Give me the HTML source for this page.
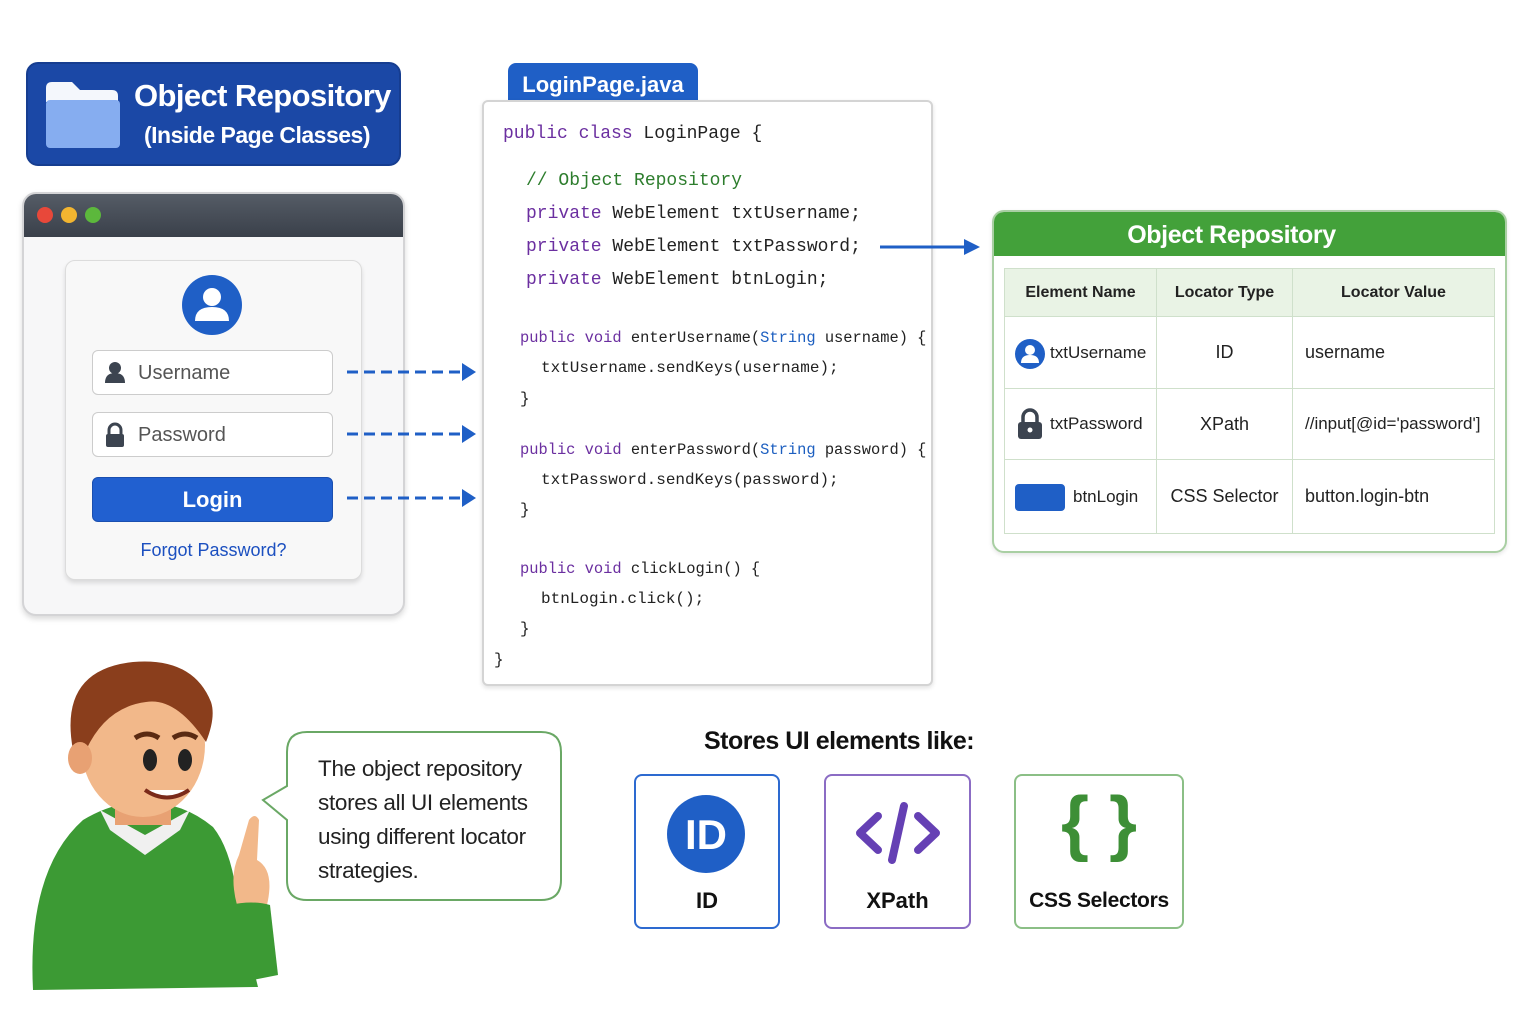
<!DOCTYPE html>
<html><head><meta charset="utf-8"><style>
*{margin:0;padding:0;box-sizing:border-box}
body{width:1536px;height:1024px;background:#fff;position:relative;overflow:hidden;font-family:"Liberation Sans",sans-serif}
.a{position:absolute}
.code{font-family:"Liberation Mono",monospace;color:#222;white-space:pre}
.k{color:#6b2fa0}.c{color:#2d7d2d}.s{color:#1d5fc0}
td,th{border:1.5px solid #cfe0cb;font-size:18px;color:#222}
</style></head><body>

<!-- title box -->
<div class="a" style="left:26px;top:62px;width:375px;height:104px;background:#1b48a6;border-radius:12px;border:2px solid #163d90"></div>
<svg class="a" style="left:44px;top:80px" width="76" height="70"><path d="M2 8 q0-6 6-6 h20 l8 8 h32 q6 0 6 6 v6 H2z" fill="#f4f7fc"/><rect x="2" y="20" width="74" height="48" rx="4" fill="#86adf0"/></svg>
<div class="a" style="left:134px;top:78px;color:#fff;font-size:31px;font-weight:bold;letter-spacing:-0.6px;white-space:nowrap">Object Repository</div>
<div class="a" style="left:144px;top:122px;color:#fff;font-size:23px;font-weight:bold;letter-spacing:-0.5px;white-space:nowrap">(Inside Page Classes)</div>

<!-- browser -->
<div class="a" style="left:22px;top:192px;width:383px;height:424px;background:#f7f7f8;border:2px solid #d4d4d6;border-radius:14px;box-shadow:0 3px 6px rgba(0,0,0,.15);overflow:hidden">
 <div style="height:43px;background:linear-gradient(#555c66,#3a404a)"></div>
</div>
<div class="a" style="left:37px;top:207px;width:16px;height:16px;border-radius:50%;background:#e8483a"></div>
<div class="a" style="left:61px;top:207px;width:16px;height:16px;border-radius:50%;background:#f2b530"></div>
<div class="a" style="left:85px;top:207px;width:16px;height:16px;border-radius:50%;background:#5cb83c"></div>
<div class="a" style="left:65px;top:260px;width:297px;height:320px;background:#f8f8f8;border:1.5px solid #dcdcdc;border-radius:10px;box-shadow:0 3px 5px rgba(0,0,0,.12)"></div>
<svg class="a" style="left:181px;top:274px" width="62" height="62"><circle cx="31" cy="31" r="30" fill="#1f5fc6"/><circle cx="31" cy="23" r="9" fill="#fff"/><path d="M14 47 q0-14 17-14 q17 0 17 14z" fill="#fff"/></svg>
<div class="a" style="left:92px;top:350px;width:241px;height:45px;background:#fff;border:1.5px solid #ccc;border-radius:6px"></div>
<svg class="a" style="left:104px;top:361px" width="22" height="22"><circle cx="11" cy="7" r="6" fill="#3c4450"/><path d="M1 22 q0-10 10-10 q10 0 10 10z" fill="#3c4450"/></svg>
<div class="a" style="left:138px;top:362px;font-size:20px;color:#555">Username</div>
<div class="a" style="left:92px;top:412px;width:241px;height:45px;background:#fff;border:1.5px solid #ccc;border-radius:6px"></div>
<svg class="a" style="left:104px;top:422px" width="22" height="26"><path d="M5 12 v-4 a6 6 0 0 1 12 0 v4" stroke="#3c4450" stroke-width="3" fill="none"/><rect x="2" y="12" width="18" height="13" rx="2" fill="#3c4450"/></svg>
<div class="a" style="left:138px;top:424px;font-size:20px;color:#555">Password</div>
<div class="a" style="left:92px;top:477px;width:241px;height:45px;background:#2160d0;border:1.5px solid #1a4fb0;border-radius:6px;color:#fff;font-size:22px;font-weight:bold;text-align:center;line-height:43px">Login</div>
<div class="a" style="left:65px;top:540px;width:297px;text-align:center;font-size:18px;color:#1c50c0">Forgot Password?</div>

<!-- dashed arrows -->
<svg class="a" style="left:340px;top:355px" width="150" height="160">
 <g stroke="#1f5fc6" stroke-width="3" stroke-dasharray="11,6" fill="none"><line x1="7" y1="17" x2="124" y2="17"/><line x1="7" y1="79" x2="124" y2="79"/><line x1="7" y1="143" x2="124" y2="143"/></g>
 <g fill="#1f5fc6"><path d="M122 8 l14 9 -14 9z"/><path d="M122 70 l14 9 -14 9z"/><path d="M122 134 l14 9 -14 9z"/></g>
</svg>

<!-- code panel -->
<div class="a" style="left:508px;top:63px;width:190px;height:44px;background:#1f5fc6;border-radius:8px 8px 0 0;color:#fff;font-size:22px;font-weight:bold;text-align:center;line-height:44px">LoginPage.java</div>
<div class="a" style="left:482px;top:100px;width:451px;height:586px;background:#fff;border:2px solid #d4d4d4;border-radius:6px;box-shadow:0 2px 5px rgba(0,0,0,.12)"></div>
<div class="a code" style="left:503px;top:124px;font-size:18px"><span class="k">public class</span> LoginPage {</div>
<div class="a code" style="left:526px;top:165px;font-size:18px;line-height:33px"><span class="c">// Object Repository</span>
<span class="k">private</span> WebElement txtUsername;
<span class="k">private</span> WebElement txtPassword;
<span class="k">private</span> WebElement btnLogin;</div>
<div class="a code" style="left:520px;top:329px;font-size:15.4px"><span class="k">public void</span> enterUsername(<span class="s">String</span> username) {</div>
<div class="a code" style="left:541px;top:359px;font-size:16px">txtUsername.sendKeys(username);</div>
<div class="a code" style="left:520px;top:390px;font-size:16px">}</div>
<div class="a code" style="left:520px;top:441px;font-size:15.4px"><span class="k">public void</span> enterPassword(<span class="s">String</span> password) {</div>
<div class="a code" style="left:541px;top:471px;font-size:16px">txtPassword.sendKeys(password);</div>
<div class="a code" style="left:520px;top:501px;font-size:16px">}</div>
<div class="a code" style="left:520px;top:560px;font-size:15.4px"><span class="k">public void</span> clickLogin() {</div>
<div class="a code" style="left:541px;top:590px;font-size:16px">btnLogin.click();</div>
<div class="a code" style="left:520px;top:620px;font-size:16px">}</div>
<div class="a code" style="left:494px;top:651px;font-size:16px">}</div>

<svg class="a" style="left:878px;top:236px" width="106" height="22"><line x1="2" y1="11" x2="88" y2="11" stroke="#1f5fc6" stroke-width="3"/><path d="M86 3 l16 8 -16 8z" fill="#1f5fc6"/></svg>

<!-- object repository table -->
<div class="a" style="left:992px;top:210px;width:515px;height:343px;background:#fff;border:2px solid #a9cfa3;border-radius:12px;box-shadow:0 2px 4px rgba(0,0,0,.1);overflow:hidden">
 <div style="height:44px;background:#43a13a;color:#fff;font-size:25px;font-weight:bold;text-align:center;line-height:46px;letter-spacing:-0.4px;padding-right:36px">Object Repository</div>
</div>
<table class="a" style="left:1004px;top:268px;width:491px;border-collapse:collapse;background:#fff">
<tr style="height:48px;background:#e9f3e5"><th style="width:152px;font-size:16px">Element Name</th><th style="width:136px;font-size:16px">Locator Type</th><th style="font-size:16px">Locator Value</th></tr>
<tr style="height:72px"><td style="padding-left:45px;font-size:17px">txtUsername</td><td style="text-align:center">ID</td><td style="padding-left:12px">username</td></tr>
<tr style="height:71px"><td style="padding-left:45px;font-size:17px">txtPassword</td><td style="text-align:center">XPath</td><td style="padding-left:12px;font-size:17px">//input[@id='password']</td></tr>
<tr style="height:74px"><td style="padding-left:68px;font-size:17px">btnLogin</td><td style="text-align:center">CSS Selector</td><td style="padding-left:12px">button.login-btn</td></tr>
</table>
<svg class="a" style="left:1014px;top:338px" width="32" height="32"><circle cx="16" cy="16" r="15" fill="#1f5fc6"/><circle cx="16" cy="12" r="5" fill="#fff"/><path d="M7 25 q0-8 9-8 q9 0 9 8z" fill="#fff"/></svg>
<svg class="a" style="left:1016px;top:408px" width="28" height="32"><path d="M7 14 v-5 a7 7 0 0 1 14 0 v5" stroke="#3c4450" stroke-width="3.5" fill="none"/><rect x="2" y="14" width="24" height="17" rx="3" fill="#3c4450"/><circle cx="14" cy="22" r="2.5" fill="#fff"/></svg>
<div class="a" style="left:1015px;top:484px;width:50px;height:27px;background:#1f5fc6;border-radius:4px"></div>

<!-- stores UI elements -->
<div class="a" style="left:704px;top:727px;font-size:25px;font-weight:bold;color:#111;letter-spacing:-0.5px;white-space:nowrap">Stores UI elements like:</div>
<div class="a" style="left:634px;top:774px;width:146px;height:155px;border:2px solid #2d6ad0;border-radius:8px"></div>
<svg class="a" style="left:666px;top:794px" width="80" height="80"><circle cx="40" cy="40" r="39" fill="#1f5fc6"/><text x="40" y="55" text-anchor="middle" font-family="Liberation Sans" font-weight="bold" font-size="42" fill="#fff">ID</text></svg>
<div class="a" style="left:634px;top:888px;width:146px;text-align:center;font-size:22px;font-weight:bold;color:#111">ID</div>
<div class="a" style="left:824px;top:774px;width:147px;height:155px;border:2px solid #8b6cc4;border-radius:8px"></div>
<svg class="a" style="left:852px;top:800px" width="92" height="66"><g stroke="#6540b4" stroke-width="8" fill="none" stroke-linecap="round" stroke-linejoin="round"><path d="M26 16 L8 33 L26 50"/><path d="M66 16 L84 33 L66 50"/><path d="M52 6 L40 60"/></g></svg>
<div class="a" style="left:824px;top:888px;width:147px;text-align:center;font-size:22px;font-weight:bold;color:#111">XPath</div>
<div class="a" style="left:1014px;top:774px;width:170px;height:155px;border:2px solid #8bbf86;border-radius:8px"></div>
<div class="a" style="left:1014px;top:782px;width:170px;text-align:center;font-size:72px;font-weight:bold;color:#3d8f36">{ }</div>
<div class="a" style="left:1014px;top:889px;width:170px;text-align:center;font-size:21px;font-weight:bold;color:#111;letter-spacing:-0.3px">CSS Selectors</div>

<!-- speech bubble -->
<svg class="a" style="left:255px;top:728px" width="310" height="176"><path d="M52 4 H286 q20 0 20 20 V152 q0 20 -20 20 H52 q-20 0 -20 -20 V92 L8 72 L32 58 V24 q0-20 20-20z" fill="#fff" stroke="#6aa865" stroke-width="2"/></svg>
<div class="a" style="left:318px;top:752px;font-size:22.5px;line-height:34px;color:#222;letter-spacing:-0.3px">The object repository<br>stores all UI elements<br>using different locator<br>strategies.</div>

<!-- character -->
<svg class="a" style="left:25px;top:660px" width="260" height="340">
 <path d="M8 330 q-6-120 50-170 q30-18 60-18 q40 0 70 25 q20 25 25 80 l20 80z" fill="#3c9a34"/>
 <path d="M75 150 l45 25 45-25 -10 20 -35 25 -35-25z" fill="#f0f0f0"/>
 <rect x="90" y="125" width="56" height="40" fill="#e8a173"/>
 <ellipse cx="118" cy="85" rx="62" ry="72" fill="#f2b88a"/>
 <path d="M48 90 q-15-80 60-88 q60-5 78 40 q5 15 -5 40 q-30-45-60-40 q-40 5-60 48z" fill="#8a3e1c"/>
 <ellipse cx="55" cy="98" rx="12" ry="16" fill="#e8a173"/>
 <path d="M110 78 q12-8 24 0 M148 78 q12-8 24 0" stroke="#5a2a12" stroke-width="5" fill="none"/>
 <ellipse cx="125" cy="100" rx="7" ry="11" fill="#222"/><ellipse cx="160" cy="100" rx="7" ry="11" fill="#222"/>
 <path d="M120 130 q22 15 44 0" stroke="#7a2a1a" stroke-width="4" fill="#fff"/>
 <path d="M212 245 q-8-30 2-50 l10-35 q6-8 10 0 l-2 40 q18 10 10 45z" fill="#f2b88a"/>
 <path d="M205 245 q22-5 40 0 l8 70 -50 10z" fill="#3c9a34"/>
</svg>

</body></html>
